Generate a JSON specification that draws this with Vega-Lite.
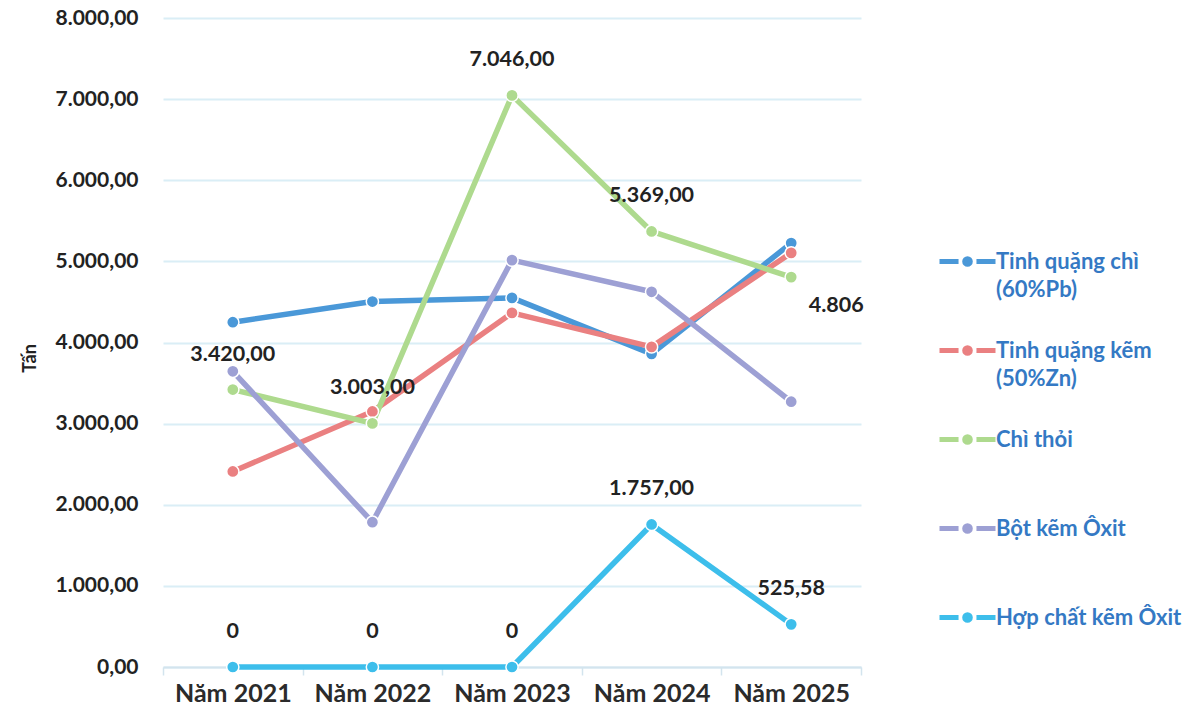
{
  "$schema": "https://vega.github.io/schema/vega-lite/v6.json",
  "width": 698,
  "height": 649,
  "autosize": {"type": "none"},
  "padding": {"left": 163, "top": 18, "right": 337, "bottom": 52},
  "background": "white",
  "config": {
    "locale": {"number": {"decimal": ",", "thousands": ".", "grouping": [3], "currency": ["", ""]}},
    "view": {"stroke": null},
    "font": "Lato",
    "style": {"guide-label": {"lineHeight": 28}}
  },
  "data": {
    "values": [
      {"series": "Tinh quặng chì (60%Pb)", "year": "Năm 2021", "value": 4250},
      {"series": "Tinh quặng chì (60%Pb)", "year": "Năm 2022", "value": 4505},
      {"series": "Tinh quặng chì (60%Pb)", "year": "Năm 2023", "value": 4550},
      {"series": "Tinh quặng chì (60%Pb)", "year": "Năm 2024", "value": 3860},
      {"series": "Tinh quặng chì (60%Pb)", "year": "Năm 2025", "value": 5225},
      {"series": "Tinh quặng kẽm (50%Zn)", "year": "Năm 2021", "value": 2410},
      {"series": "Tinh quặng kẽm (50%Zn)", "year": "Năm 2022", "value": 3150},
      {"series": "Tinh quặng kẽm (50%Zn)", "year": "Năm 2023", "value": 4365},
      {"series": "Tinh quặng kẽm (50%Zn)", "year": "Năm 2024", "value": 3946},
      {"series": "Tinh quặng kẽm (50%Zn)", "year": "Năm 2025", "value": 5105},
      {"series": "Chì thỏi", "year": "Năm 2021", "value": 3420, "label": "3.420,00"},
      {"series": "Chì thỏi", "year": "Năm 2022", "value": 3003, "label": "3.003,00"},
      {"series": "Chì thỏi", "year": "Năm 2023", "value": 7046, "label": "7.046,00"},
      {"series": "Chì thỏi", "year": "Năm 2024", "value": 5369, "label": "5.369,00"},
      {"series": "Chì thỏi", "year": "Năm 2025", "value": 4806, "label": "4.806"},
      {"series": "Bột kẽm Ôxit", "year": "Năm 2021", "value": 3645},
      {"series": "Bột kẽm Ôxit", "year": "Năm 2022", "value": 1785},
      {"series": "Bột kẽm Ôxit", "year": "Năm 2023", "value": 5015},
      {"series": "Bột kẽm Ôxit", "year": "Năm 2024", "value": 4625},
      {"series": "Bột kẽm Ôxit", "year": "Năm 2025", "value": 3270},
      {"series": "Hợp chất kẽm Ôxit", "year": "Năm 2021", "value": 0, "label": "0"},
      {"series": "Hợp chất kẽm Ôxit", "year": "Năm 2022", "value": 0, "label": "0"},
      {"series": "Hợp chất kẽm Ôxit", "year": "Năm 2023", "value": 0, "label": "0"},
      {"series": "Hợp chất kẽm Ôxit", "year": "Năm 2024", "value": 1757, "label": "1.757,00"},
      {"series": "Hợp chất kẽm Ôxit", "year": "Năm 2025", "value": 525.58, "label": "525,58"}
    ]
  },
  "encoding": {
    "x": {
      "field": "year", "type": "ordinal", "bandPosition": 0.5,
      "scale": {"type": "band", "paddingInner": 0, "paddingOuter": 0},
      "axis": {
        "title": null, "labelAngle": 0, "labelFont": "Lato", "labelFontSize": 25, "labelFontWeight": "bold",
        "labelColor": "#2b2b2b", "labelPadding": 6, "tickBand": "extent", "tickSize": 8, "tickWidth": 1.5,
        "tickColor": "#D3E4EE", "domainColor": "#D3E4EE", "domainWidth": 2, "grid": false
      }
    },
    "y": {
      "field": "value", "type": "quantitative",
      "scale": {"domain": [0, 8000], "nice": false},
      "axis": {
        "values": [0, 1000, 2000, 3000, 4000, 5000, 6000, 7000, 8000],
        "format": ",.2f", "labelFont": "Lato", "labelFontSize": 21, "labelFontWeight": "bold", "labelColor": "#222222",
        "labelPadding": 25, "ticks": false, "domain": false, "gridColor": "#DAEEF6", "gridWidth": 2,
        "title": "Tấn", "titleFont": "Lato", "titleFontSize": 18, "titleFontWeight": "bold", "titleColor": "#222222",
        "titleX": -133, "titleY": 340, "titleAngle": -90, "titleBaseline": "middle"
      }
    },
    "color": {
      "field": "series", "type": "nominal",
      "sort": ["Tinh quặng chì (60%Pb)", "Tinh quặng kẽm (50%Zn)", "Chì thỏi", "Bột kẽm Ôxit", "Hợp chất kẽm Ôxit"],
      "scale": {
        "domain": ["Tinh quặng chì (60%Pb)", "Tinh quặng kẽm (50%Zn)", "Chì thỏi", "Bột kẽm Ôxit", "Hợp chất kẽm Ôxit"],
        "range": ["#4A98D8", "#EA8081", "#AEDA8E", "#9DA0D4", "#3DBEEB"]
      },
      "legend": {
        "title": null, "orient": "none", "legendX": 774, "legendY": 220, "direction": "vertical",
        "symbolType": "M-1,-0.25H-0.32M0.32,-0.25H1M0.1,-0.25A0.1,0.1,0,1,1,-0.1,-0.25A0.1,0.1,0,1,1,0.1,-0.25",
        "symbolSize": 3136, "symbolStrokeWidth": 5, "gridAlign": "all",
        "labelFont": "Lato", "labelFontSize": 22, "labelFontWeight": "bold", "labelColor": "#3479C4",
        "labelLimit": 400, "labelOffset": -2, "rowPadding": 26, "labelBaseline": "alphabetic",
        "labelExpr": "indexof(datum.label, '(') > 0 ? [substring(datum.label, 0, indexof(datum.label, '(') - 1), substring(datum.label, indexof(datum.label, '('))] : datum.label"
      }
    }
  },
  "layer": [
    {"mark": {"type": "line", "strokeWidth": 5.5, "strokeCap": "round", "strokeJoin": "round"}},
    {"mark": {"type": "point", "filled": true, "size": 150, "stroke": "white", "strokeWidth": 1.5, "opacity": 1}},
    {
      "transform": [{"filter": "isValid(datum.label) && !(datum.series == 'Chì thỏi' && datum.year == 'Năm 2025')"}],
      "mark": {"type": "text", "dy": -35, "font": "Lato", "fontSize": 21.5, "fontWeight": "bold", "color": "#222222"},
      "encoding": {"text": {"field": "label"}, "color": {"value": "#222222"}}
    },
    {
      "transform": [{"filter": "datum.series == 'Chì thỏi' && datum.year == 'Năm 2025'"}],
      "mark": {"type": "text", "dx": 45, "dy": 29, "font": "Lato", "fontSize": 21.5, "fontWeight": "bold", "color": "#222222"},
      "encoding": {"text": {"field": "label"}, "color": {"value": "#222222"}}
    }
  ]
}
